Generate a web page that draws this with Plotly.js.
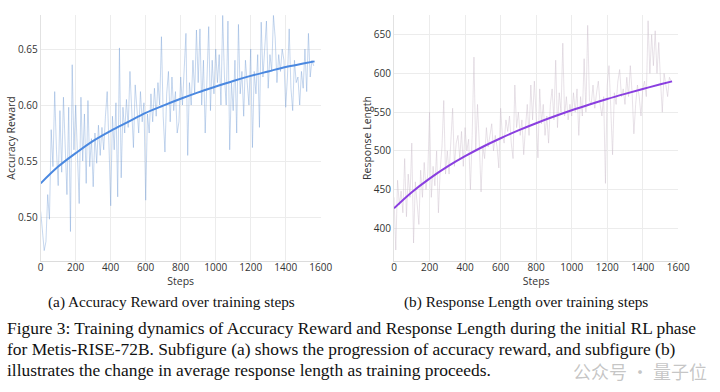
<!DOCTYPE html>
<html>
<head>
<meta charset="utf-8">
<script src="https://cdn.plot.ly/plotly-3.0.1.min.js"></script>
<style>
html,body{margin:0;padding:0;background:#fff;}
#chart{width:720px;height:392px;}
</style>
</head>
<body>
<div id="chart"></div>
<script>
// ---- data ----
const rawStepStart = 0;
const rawStepSize = 10;

const accuracyRaw = [
0.505,0.488,0.470,0.478,0.520,0.498,0.578,0.545,0.612,0.560,
0.528,0.595,0.540,0.607,0.556,0.520,0.598,0.487,0.636,0.560,
0.600,0.545,0.512,0.607,0.550,0.592,0.530,0.604,0.545,0.570,
0.527,0.575,0.548,0.582,0.555,0.580,0.560,0.590,0.612,0.565,
0.510,0.590,0.560,0.602,0.518,0.651,0.535,0.598,0.575,0.605,
0.580,0.630,0.590,0.562,0.618,0.595,0.575,0.612,0.585,0.602,
0.515,0.592,0.575,0.610,0.585,0.615,0.590,0.620,0.600,0.661,
0.590,0.558,0.610,0.630,0.585,0.625,0.595,0.612,0.575,0.585,
0.625,0.600,0.640,0.664,0.555,0.620,0.600,0.640,0.610,0.667,
0.620,0.668,0.600,0.640,0.575,0.625,0.670,0.595,0.640,0.610,
0.650,0.620,0.645,0.600,0.680,0.625,0.600,0.675,0.560,0.620,
0.595,0.640,0.575,0.672,0.610,0.630,0.590,0.640,0.615,0.600,
0.650,0.562,0.630,0.610,0.645,0.580,0.674,0.625,0.650,0.675,
0.615,0.645,0.630,0.680,0.660,0.620,0.645,0.630,0.650,0.640,
0.598,0.625,0.668,0.615,0.595,0.640,0.620,0.625,0.600,0.630,
0.615,0.650,0.612,0.664,0.625,0.640,0.635
];

const lengthRaw = [
440,372,462,430,448,420,490,415,470,440,
510,381,460,430,405,475,440,485,450,470,
550,440,480,455,500,420,475,505,565,470,
500,470,515,555,480,510,520,490,525,480,
530,500,515,450,520,621,500,560,510,447,
505,490,530,505,520,535,500,520,505,478,
555,520,510,540,525,545,510,490,585,530,
550,520,540,495,530,560,520,585,540,590,
545,491,580,535,560,520,545,510,560,580,
540,617,530,575,550,639,545,570,540,560,
545,575,550,580,520,570,545,619,550,662,
565,560,585,555,575,590,560,545,570,458,
585,610,555,495,575,560,590,605,570,580,
560,595,570,610,575,522,560,585,570,545,
580,590,570,668,600,650,610,655,600,640,
590,550,600,585,570,595,590
];

const trendSteps = [0,100,200,300,400,500,600,700,800,900,1000,1100,1200,1300,1400,1500,1565];
const accuracyTrend = [0.530,0.545,0.557,0.568,0.577,0.585,0.593,0.5995,0.6056,0.6113,0.6165,0.6215,0.626,0.630,0.634,0.637,0.639];
const lengthTrend = [425.8,446.6,464.2,479.6,493.1,505.3,516.3,526.4,535.7,544.3,552.4,559.9,567.0,573.6,579.9,585.9,589.7];

const xTickVals = [0,200,400,600,800,1000,1200,1400,1600];
const accTickVals = [0.50,0.55,0.60,0.65];
const lenTickVals = [400,450,500,550,600,650];

const xLabel = "Steps";
const accLabel = "Accuracy Reward";
const lenLabel = "Response Length";
const subCaptionA = "(a) Accuracy Reward over training steps";
const subCaptionB = "(b) Response Length over training steps";
const captionLines = [
  "Figure 3: Training dynamics of Accuracy Reward and Response Length during the initial RL phase",
  "for Metis-RISE-72B. Subfigure (a) shows the progression of accuracy reward, and subfigure (b)",
  "illustrates the change in average response length as training proceeds."
];
const watermark = "公众号 · 量子位";

// ---- traces ----
const traces = [
  {type:'scatter', mode:'lines', x0:rawStepStart, dx:rawStepSize, y:accuracyRaw,
   line:{color:'rgba(120,160,215,0.42)', width:1}, xaxis:'x', yaxis:'y', hoverinfo:'skip'},
  {type:'scatter', mode:'lines', x:trendSteps, y:accuracyTrend,
   line:{color:'#4a88e0', width:2, shape:'spline'}, xaxis:'x', yaxis:'y'},
  {type:'scatter', mode:'lines', x0:rawStepStart, dx:rawStepSize, y:lengthRaw,
   line:{color:'rgba(205,190,205,0.45)', width:1}, xaxis:'x2', yaxis:'y2', hoverinfo:'skip'},
  {type:'scatter', mode:'lines', x:trendSteps, y:lengthTrend,
   line:{color:'#8a3fe0', width:2, shape:'spline'}, xaxis:'x2', yaxis:'y2'}
];

const H = 392, W = 720;
const font = {family:'"Open Sans", "DejaVu Sans", sans-serif', size:10, color:'#333'};
const gridColor = '#ececec';

function xAxis(domain, anchor){
  return {domain:domain, anchor:anchor, range:[0,1600], tickvals:xTickVals,
    showgrid:true, gridcolor:gridColor, gridwidth:1, zeroline:false,
    showline:true, linecolor:'#dcdcdc', linewidth:1, ticks:'',
    ticklabelstandoff:-3,
    tickfont:{family:font.family, size:10, color:'#333'},
    title:{text:xLabel, font:{family:font.family, size:10.5, color:'#333'}, standoff:0},
    automargin:false};
}
function yAxis(domain, anchor, range, tv, label, tf){
  return {domain:domain, anchor:anchor, range:range, tickvals:tv, tickformat:tf,
    showgrid:true, gridcolor:gridColor, gridwidth:1, zeroline:false,
    showline:true, linecolor:'#e2e2e2', linewidth:1, ticks:'',
    tickfont:{family:font.family, size:10, color:'#333'},
    title:{text:label, font:{family:font.family, size:10.5, color:'#333'}, standoff:0},
    automargin:false};
}

const yDom = [1-261/H, 1-15/H];
const annotations = [
  {text:subCaptionA, x:171/W, y:1-302/H, xref:'paper', yref:'paper', showarrow:false,
   xanchor:'center', yanchor:'middle', font:{family:'"Liberation Serif", serif', size:15.3, color:'#111'}},
  {text:subCaptionB, x:526/W, y:1-302/H, xref:'paper', yref:'paper', showarrow:false,
   xanchor:'center', yanchor:'middle', font:{family:'"Liberation Serif", serif', size:15.3, color:'#111'}},
  {text:watermark, x:640/W, y:1-371/H, xref:'paper', yref:'paper', showarrow:false,
   xanchor:'center', yanchor:'middle', font:{family:'"Noto Sans CJK SC", sans-serif', size:18, color:'rgba(160,160,160,0.6)'}}
];
const captionY = [328,349,370];
captionLines.forEach((t,i)=>{
  annotations.push({text:t, x:5/W, y:1-captionY[i]/H, xref:'paper', yref:'paper', showarrow:false,
    xanchor:'left', yanchor:'middle', font:{family:'"Liberation Serif", serif', size:17.4, color:'#111'}});
});

const layout = {
  width:W, height:H, margin:{l:0,r:0,t:0,b:0},
  paper_bgcolor:'#fff', plot_bgcolor:'#fff', showlegend:false, font:font,
  xaxis: xAxis([40.7/W, 320.7/W], 'y'),
  yaxis: yAxis(yDom, 'x', [0.4607,0.6804], accTickVals, accLabel, '.2f'),
  xaxis2: xAxis([394/W, 678.3/W], 'y2'),
  yaxis2: yAxis(yDom, 'x2', [357.8,675.4], lenTickVals, lenLabel, 'd'),
  annotations: annotations
};

Plotly.newPlot('chart', traces, layout, {displayModeBar:false, staticPlot:true});
</script>
</body>
</html>
